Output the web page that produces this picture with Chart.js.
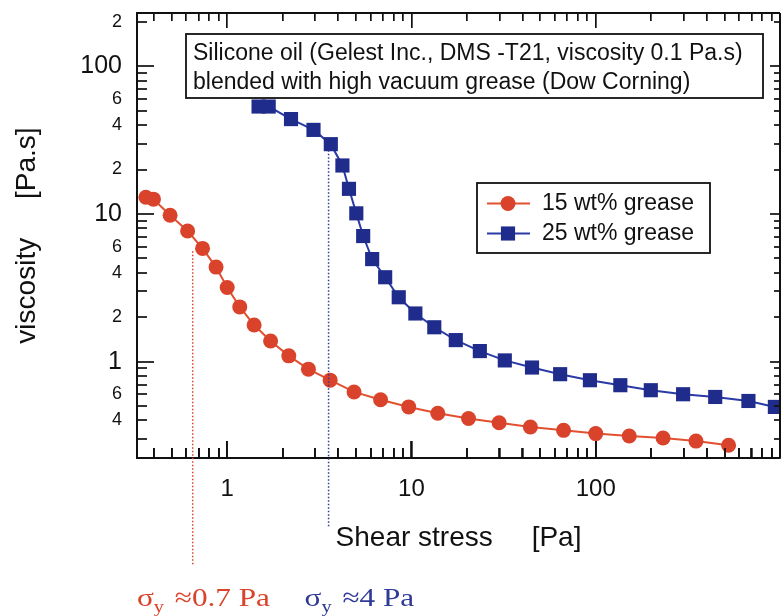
<!DOCTYPE html>
<html>
<head>
<meta charset="utf-8">
<script src="https://cdn.jsdelivr.net/npm/chart.js@4.4.1/dist/chart.umd.min.js"></script>
<style>
  html, body { margin: 0; padding: 0; background: #fff; overflow: hidden; }
  #wrap { width: 790px; height: 616px; }
</style>
</head>
<body>
<div id="wrap"><canvas id="chart" width="790" height="616"></canvas></div>
<script>
// values (shear stress in Pa, viscosity in Pa.s)
const stress15 = [0.362, 0.398, 0.49, 0.61, 0.735, 0.87, 1.0, 1.17, 1.40, 1.72, 2.16, 2.76, 3.62, 4.88, 6.8, 9.66, 13.9, 20.4, 29.9, 44.2, 66.9, 100, 152, 232, 350, 526];
const visc15 = [12.98, 12.6, 9.8, 7.67, 5.85, 4.37, 3.18, 2.35, 1.77, 1.38, 1.095, 0.89, 0.75, 0.624, 0.553, 0.494, 0.4475, 0.412, 0.386, 0.361, 0.343, 0.326, 0.314, 0.304, 0.29, 0.272];
const stress25 = [1.48, 1.68, 2.22, 2.94, 3.65, 4.22, 4.58, 5.02, 5.47, 6.12, 7.2, 8.53, 10.5, 13.3, 17.4, 23.5, 32.1, 45.1, 64.1, 93, 136, 199, 298, 445, 674, 938];
const visc25 = [53.4, 53.4, 43.9, 37.1, 29.7, 21.3, 14.8, 10.1, 7.09, 4.95, 3.73, 2.73, 2.12, 1.71, 1.40, 1.18, 1.02, 0.913, 0.823, 0.749, 0.693, 0.641, 0.602, 0.577, 0.542, 0.494];
const seriesNames = ['15 wt% grease', '25 wt% grease'];
const xTickLabels = [1, 10, 100];
const yTickLabels = [0.4, 0.6, 1, 2, 4, 6, 10, 20, 40, 60, 100, 200];
const yieldStress = [0.65, 3.55];     // dotted markers
const yieldTop = [5.6, 27];           // where the dotted lines start (viscosity)
const yieldText = ['\u22480.7 Pa', '\u22484 Pa'];
const noteLines = ['Silicone oil (Gelest Inc., DMS -T21, viscosity 0.1 Pa.s)', 'blended with high vacuum grease (Dow Corning)'];

const FONT = '"Liberation Sans", Arial, Helvetica, sans-serif';
const SERIF = '"Liberation Serif", "Times New Roman", serif';
const RED = '#d9432b';
const BLUE = '#1f2c8c';
const INK = '#111';

function isPow10(v) {
  const l = Math.log10(v);
  return Math.abs(l - Math.round(l)) < 1e-6;
}
function firstDigit(v) {
  return String(Math.round(v / Math.pow(10, Math.floor(Math.log10(v) + 1e-9))));
}
function logTicks(min, max) {
  const out = [];
  for (let e = Math.floor(Math.log10(min)); e <= Math.ceil(Math.log10(max)); e++) {
    for (let m = 1; m <= 9; m++) {
      const v = Number((m * Math.pow(10, e)).toPrecision(4));
      if (v >= min && v <= max) out.push(v);
    }
  }
  return out;
}
function hasValue(list, v) {
  return list.some(t => Math.abs(t - v) < 1e-9 * Math.max(1, v));
}

// x grid lines dashed so only a short inward piece shows at top and bottom
function xTickDash(c) {
  if (!c.tick || !c.chart.chartArea) return [];
  const h = c.chart.chartArea.bottom - c.chart.chartArea.top;
  const big = isPow10(c.tick.value);
  const t = big ? 15 : 8, b = big ? 17 : 10;
  return [t, h - t - b, b, 2000];
}

// inward ticks for the y axes, bottom ticks again, and the frame
const frameTicks = {
  id: 'frameTicks',
  afterDraw(chart) {
    const ctx = chart.ctx;
    const a = chart.chartArea;
    const x = chart.scales.x, y = chart.scales.y;
    const w = 1.7;
    ctx.save();
    ctx.fillStyle = INK;
    logTicks(y.min, y.max).forEach(v => {
      const py = Math.round(y.getPixelForValue(v)) - w / 2;
      const big = isPow10(v);
      ctx.fillRect(a.left, py, big ? 17 : 10, w);
      ctx.fillRect(a.right - (big ? 10 : 6), py, big ? 10 : 6, w);
    });
    logTicks(x.min, x.max).forEach(v => {
      const px = Math.round(x.getPixelForValue(v)) - w / 2;
      const lb = isPow10(v) ? 17 : 10;
      ctx.fillRect(px, a.bottom - lb, w, lb);
    });
    ctx.fillRect(a.left, a.top - 1, a.right - a.left, 2);
    ctx.fillRect(a.right - 1, a.top, 2, a.bottom - a.top);
    ctx.restore();
  }
};

// dotted yield-stress lines and their labels under the axis
const yieldMarks = {
  id: 'yieldMarks',
  afterDraw(chart) {
    const { ctx, chartArea: a, scales: { x, y } } = chart;
    const colors = [RED, '#2e3a96'];
    const ends = [107, 70];
    const textX = [a.left, x.getPixelForValue(yieldStress[1]) - 24];
    ctx.save();
    yieldStress.forEach((s, i) => {
      const px = x.getPixelForValue(s);
      ctx.strokeStyle = colors[i];
      ctx.lineWidth = 1.5;
      ctx.setLineDash([1.5, 2]);
      ctx.beginPath();
      ctx.moveTo(px, y.getPixelForValue(yieldTop[i]));
      ctx.lineTo(px, a.bottom + ends[i]);
      ctx.stroke();

      ctx.setLineDash([]);
      ctx.fillStyle = colors[i];
      ctx.textBaseline = 'alphabetic';
      ctx.textAlign = 'left';
      ctx.save();
      ctx.translate(textX[i], 606);
      ctx.scale(1.2, 1);
      let tx = 0;
      ctx.font = '26px ' + SERIF;
      ctx.fillText('\u03c3', tx, 0);
      tx += ctx.measureText('\u03c3').width;
      ctx.font = '17px ' + SERIF;
      ctx.fillText('y', tx, 6);
      tx += ctx.measureText('y').width + 9;
      ctx.font = '26px ' + SERIF;
      ctx.fillText(yieldText[i], tx, 0);
      ctx.restore();
    });
    ctx.restore();
  }
};

// note box and legend box inside the plot
const boxes = {
  id: 'boxes',
  afterDraw(chart) {
    const { ctx } = chart;
    ctx.save();
    ctx.fillStyle = '#fff';
    ctx.strokeStyle = INK;
    ctx.lineWidth = 1.8;
    ctx.fillRect(186, 34, 577, 64);
    ctx.strokeRect(186, 34, 577, 64);
    ctx.fillStyle = INK;
    ctx.font = '23px ' + FONT;
    ctx.textBaseline = 'middle';
    ctx.textAlign = 'left';
    noteLines.forEach((t, i) => ctx.fillText(t, 193, 54 + i * 28.5));

    ctx.fillStyle = '#fff';
    ctx.fillRect(477, 183, 233, 70);
    ctx.strokeRect(477, 183, 233, 70);
    chart.data.datasets.forEach((ds, i) => {
      const yy = 203.5 + i * 30;
      ctx.strokeStyle = ds.borderColor;
      ctx.lineWidth = 2;
      ctx.beginPath();
      ctx.moveTo(487, yy); ctx.lineTo(530, yy);
      ctx.stroke();
      ctx.fillStyle = ds.pointBackgroundColor;
      Chart.helpers.drawPoint(ctx, { pointStyle: ds.pointStyle, radius: ds.pointRadius, borderWidth: 0 }, 508, yy);
      ctx.fillStyle = INK;
      ctx.font = '23px ' + FONT;
      ctx.fillText(seriesNames[i], 542, yy);
    });
    ctx.restore();
  }
};

const chart = new Chart(document.getElementById('chart'), {
  type: 'line',
  data: {
    datasets: [
      {
        label: seriesNames[0],
        data: stress15.map((s, i) => ({ x: s, y: visc15[i] })),
        borderColor: '#e2502f',
        borderWidth: 2,
        pointStyle: 'circle',
        pointRadius: 7.5,
        pointBackgroundColor: RED,
        pointBorderWidth: 0,
        tension: 0
      },
      {
        label: seriesNames[1],
        data: stress25.map((s, i) => ({ x: s, y: visc25[i] })),
        borderColor: '#2a3aa6',
        borderWidth: 2,
        pointStyle: 'rect',
        pointRadius: 10,
        pointBackgroundColor: BLUE,
        pointBorderWidth: 0,
        tension: 0
      }
    ]
  },
  options: {
    responsive: false,
    animation: false,
    layout: { padding: { top: 13, right: 2, left: 0, bottom: 0 } },
    plugins: { legend: { display: false }, tooltip: { enabled: false } },
    scales: {
      x: {
        type: 'logarithmic',
        min: 0.324,
        max: 1000,
        bounds: 'data',
        grid: { display: true, drawOnChartArea: true, drawTicks: false, color: INK, lineWidth: 1.7 },
        border: { display: true, color: INK, width: 2, dash: xTickDash },
        afterBuildTicks: s => { s.ticks = logTicks(s.min, s.max).map(v => ({ value: v })); },
        afterFit: s => { s.height = 158; s.paddingLeft = 0; s.paddingRight = 0; },
        ticks: {
          autoSkip: false, maxRotation: 0, padding: 17, color: INK,
          font: { family: FONT, size: 24 },
          callback: v => hasValue(xTickLabels, v) ? String(v) : ''
        },
        title: {
          display: true, text: 'Shear stress     [Pa]', color: INK,
          font: { family: FONT, size: 28 }, padding: { top: 0, bottom: 61 }
        }
      },
      y: {
        type: 'logarithmic',
        min: 0.2228,
        max: 229.5,
        bounds: 'data',
        grid: { display: false, drawTicks: false },
        border: { display: true, color: INK, width: 2 },
        afterBuildTicks: s => { s.ticks = yTickLabels.map(v => ({ value: v })); },
        afterFit: s => { s.width = 137; s.paddingTop = 0; s.paddingBottom = 0; },
        ticks: {
          autoSkip: false, padding: 15, color: INK,
          font: c => ({ family: FONT, size: c.tick && !isPow10(c.tick.value) ? 18 : 25 }),
          callback: v => isPow10(v) ? String(v) : firstDigit(v)
        },
        title: {
          display: true, text: 'viscosity     [Pa.s]', color: INK,
          font: { family: FONT, size: 28 }, padding: { top: 10, bottom: 0 }
        }
      }
    }
  },
  plugins: [frameTicks, yieldMarks, boxes]
});
</script>
</body>
</html>
